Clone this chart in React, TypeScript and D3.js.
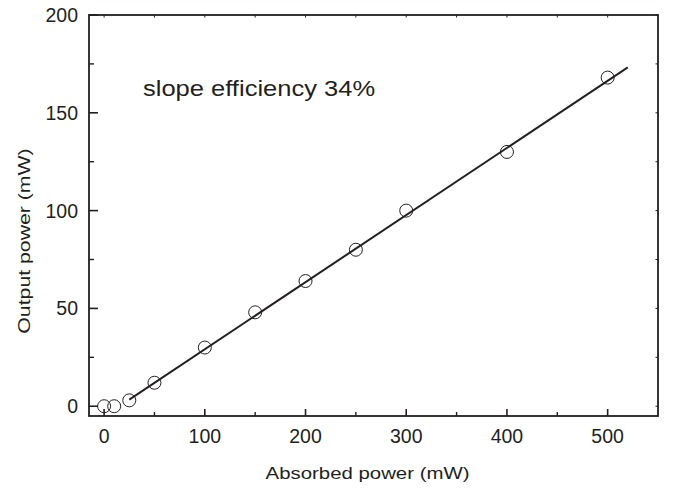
import React from "react";
import * as d3 from "d3";

const absorbed = [0, 10, 25, 50, 100, 150, 200, 250, 300, 400, 500];
const output = [0, 0, 3, 12, 30, 48, 64, 80, 100, 130, 168];
const fitX = [25, 520];
const fitY = [3.4, 173.2];
const xTicks = [0, 100, 200, 300, 400, 500];
const yTicks = [0, 50, 100, 150, 200];

const W = 675, H = 494;
const L = 89, R = 658, T = 15, B = 416;
const ink = "#231f20";
const font = "Liberation Sans, Arial, Helvetica, sans-serif";

export default function App() {
  const x = d3.scaleLinear().domain([-15, 550]).range([L, R]);
  const y = d3.scaleLinear().domain([-5, 200]).range([B, T]);
  const xMinor = d3.range(50, 550, 100);
  const yMinor = d3.range(25, 200, 50);
  const xAll = d3.range(0, 550, 50);
  const yAll = d3.range(0, 201, 25);
  const line = d3.line<[number, number]>().x(d => x(d[0])).y(d => y(d[1]));
  const fit: [number, number][] = fitX.map((v, i) => [v, fitY[i]]);

  return (
    <svg width={W} height={H} style={{ position: "absolute", left: 0, top: 0, background: "#fff" }}>
      <rect x={L} y={T} width={R - L} height={B - T} fill="none" stroke={ink} strokeWidth={1.8} />
      {xTicks.map(t => (
        <line key={"xb" + t} x1={x(t)} x2={x(t)} y1={B} y2={B - 7} stroke={ink} strokeWidth={1.6} />
      ))}
      {xMinor.map(t => (
        <line key={"xbm" + t} x1={x(t)} x2={x(t)} y1={B} y2={B - 4} stroke={ink} strokeWidth={1.4} />
      ))}
      {xAll.map(t => (
        <line key={"xt" + t} x1={x(t)} x2={x(t)} y1={T} y2={T + 2.5} stroke={ink} strokeWidth={1} />
      ))}
      {yTicks.map(t => (
        <line key={"yl" + t} x1={L} x2={L + 9} y1={y(t)} y2={y(t)} stroke={ink} strokeWidth={1.6} />
      ))}
      {yMinor.map(t => (
        <line key={"ylm" + t} x1={L} x2={L + 5} y1={y(t)} y2={y(t)} stroke={ink} strokeWidth={1.4} />
      ))}
      {yAll.map(t => (
        <line key={"yr" + t} x1={R} x2={R - 2.5} y1={y(t)} y2={y(t)} stroke={ink} strokeWidth={1} />
      ))}
      {xTicks.map(t => (
        <text key={"xl" + t} x={x(t)} y={443} textAnchor="middle" fontFamily={font} fontSize={19.5} fill={ink}>{t}</text>
      ))}
      {yTicks.map(t => (
        <text key={"yll" + t} x={78} y={y(t) + 7} textAnchor="end" fontFamily={font} fontSize={19.5} fill={ink}>{t}</text>
      ))}
      <text transform="translate(367.5,479) scale(1.2,1)" textAnchor="middle" fontFamily={font} fontSize={17} fill={ink}>Absorbed power (mW)</text>
      <text transform="translate(29.5,241) rotate(-90) scale(1.25,1)" textAnchor="middle" fontFamily={font} fontSize={17} fill={ink}>Output power (mW)</text>
      <text transform="translate(143,96) scale(1.16,1)" fontFamily={font} fontSize={22} fill={ink}>slope efficiency 34%</text>
      <path d={line(fit) || ""} fill="none" stroke={ink} strokeWidth={2} />
      {absorbed.map((a, i) => (
        <circle key={"c" + i} cx={x(a)} cy={y(output[i])} r={6.5} fill="none" stroke={ink} strokeWidth={1} />
      ))}
    </svg>
  );
}
